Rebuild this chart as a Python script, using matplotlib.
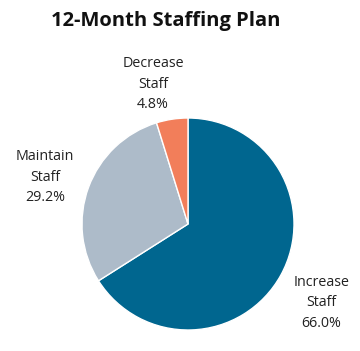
import numpy as np
import matplotlib.pyplot as plt

categories = ['Increase\nStaff', 'Maintain\nStaff', 'Decrease\nStaff']
shares = [66.0, 29.2, 4.8]
colors = ['#00668f', '#adbbc9', '#f27e5a']

# label placement (angle in degrees, distance in radii)
label_angle = [-30.6, 162.0, 104.0]
label_dist = [1.46, 1.42, 1.36]

fig = plt.figure(figsize=(3.6, 3.51), dpi=100)
cx, cy, r = 188, 224, 106
ax = fig.add_axes([(cx - r) / 360, (351 - cy - r) / 351, 2 * r / 360, 2 * r / 351])
ax.pie(shares, colors=colors, startangle=90, counterclock=False,
       wedgeprops=dict(edgecolor='white', linewidth=1))
ax.set_xlim(-1, 1)
ax.set_ylim(-1, 1)
ax.set_aspect('equal')

for lab, val, a, d in zip(categories, shares, label_angle, label_dist):
    t = np.deg2rad(a)
    ax.text(d * np.cos(t), d * np.sin(t), f'{lab}\n{val:.1f}%', ha='center', va='center',
            fontsize=10.3, family='Open Sans', color='#222222', linespacing=1.5,
            clip_on=False)

fig.text(0.46, 0.94, '12-Month Staffing Plan', ha='center', va='center',
         fontsize=14.5, fontweight='bold', family='Open Sans', color='#111111')

fig.savefig('out.png', dpi=100)
